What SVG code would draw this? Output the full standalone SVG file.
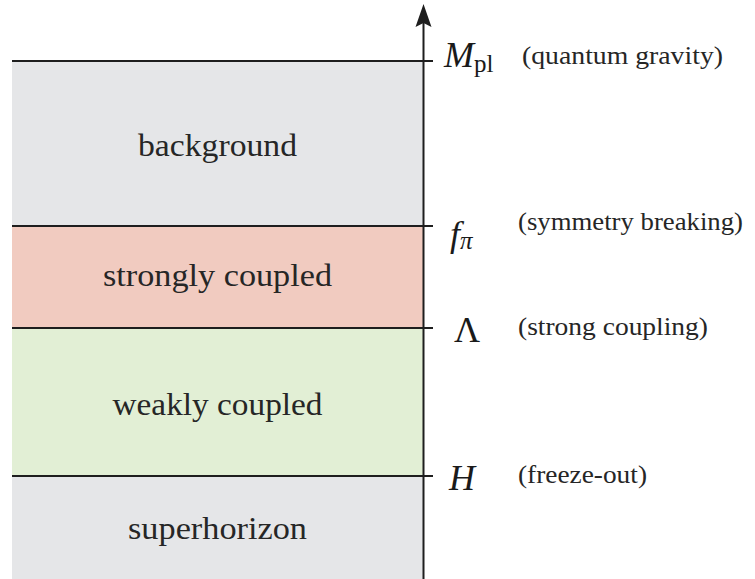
<svg xmlns="http://www.w3.org/2000/svg" width="755" height="579" viewBox="0 0 755 579">
<defs>
<style>
.band-label{font-family:"Liberation Serif","DejaVu Serif",serif;font-size:32px;fill:#262626;text-anchor:middle}
.scale-note{font-family:"Liberation Serif","DejaVu Serif",serif;font-size:25px;fill:#262626}
.math{font-family:"Liberation Serif","DejaVu Serif",serif;font-size:36px;fill:#1a1a1a}
.it{font-style:italic}
.sub{font-size:25px}
.bound{stroke:#1e1e1e;stroke-width:2;fill:none}
.grey{fill:#e5e6e8}
.pink{fill:#f1cbc0}
.green{fill:#e2efd5}
</style>
</defs>
<rect width="755" height="579" fill="#ffffff"/>
<g id="band-background">
<rect class="grey" x="12" y="61" width="411.5" height="165"/>
<text class="band-label" x="217.5" y="156" textLength="159" lengthAdjust="spacingAndGlyphs">background</text>
</g>
<g id="band-strongly-coupled">
<rect class="pink" x="12" y="226" width="411.5" height="102"/>
<text class="band-label" x="217.5" y="286" textLength="229" lengthAdjust="spacingAndGlyphs">strongly coupled</text>
</g>
<g id="band-weakly-coupled">
<rect class="green" x="12" y="328" width="411.5" height="148"/>
<text class="band-label" x="217.5" y="415" textLength="210" lengthAdjust="spacingAndGlyphs">weakly coupled</text>
</g>
<g id="band-superhorizon">
<rect class="grey" x="12" y="476" width="411.5" height="103"/>
<text class="band-label" x="217.5" y="539" textLength="179" lengthAdjust="spacingAndGlyphs">superhorizon</text>
</g>
<g id="connectors">
<line class="bound" x1="12" y1="61" x2="433" y2="61"/>
<line class="bound" x1="12" y1="226" x2="433" y2="226"/>
<line class="bound" x1="12" y1="328" x2="433" y2="328"/>
<line class="bound" x1="12" y1="476" x2="433" y2="476"/>
<line class="bound" x1="423.5" y1="579" x2="423.5" y2="20"/>
<path d="M423.5 4 L431.5 27 L423.5 23 L415.5 27 Z" fill="#1e1e1e"/>
</g>
<g id="scale-mpl">
<text class="math" x="444" y="67"><tspan class="it">M</tspan><tspan class="sub" dy="5">pl</tspan></text>
<text class="scale-note" x="522" y="64" textLength="201" lengthAdjust="spacingAndGlyphs">(quantum gravity)</text>
</g>
<g id="scale-fpi">
<text class="math it" x="450" y="246">f<tspan class="sub" dy="3">π</tspan></text>
<text class="scale-note" x="518" y="230" textLength="225" lengthAdjust="spacingAndGlyphs">(symmetry breaking)</text>
</g>
<g id="scale-lambda">
<text class="math" x="454" y="342">Λ</text>
<text class="scale-note" x="518" y="335" textLength="190" lengthAdjust="spacingAndGlyphs">(strong coupling)</text>
</g>
<g id="scale-h">
<text class="math it" x="449" y="490">H</text>
<text class="scale-note" x="518" y="483" textLength="129" lengthAdjust="spacingAndGlyphs">(freeze-out)</text>
</g>
</svg>
